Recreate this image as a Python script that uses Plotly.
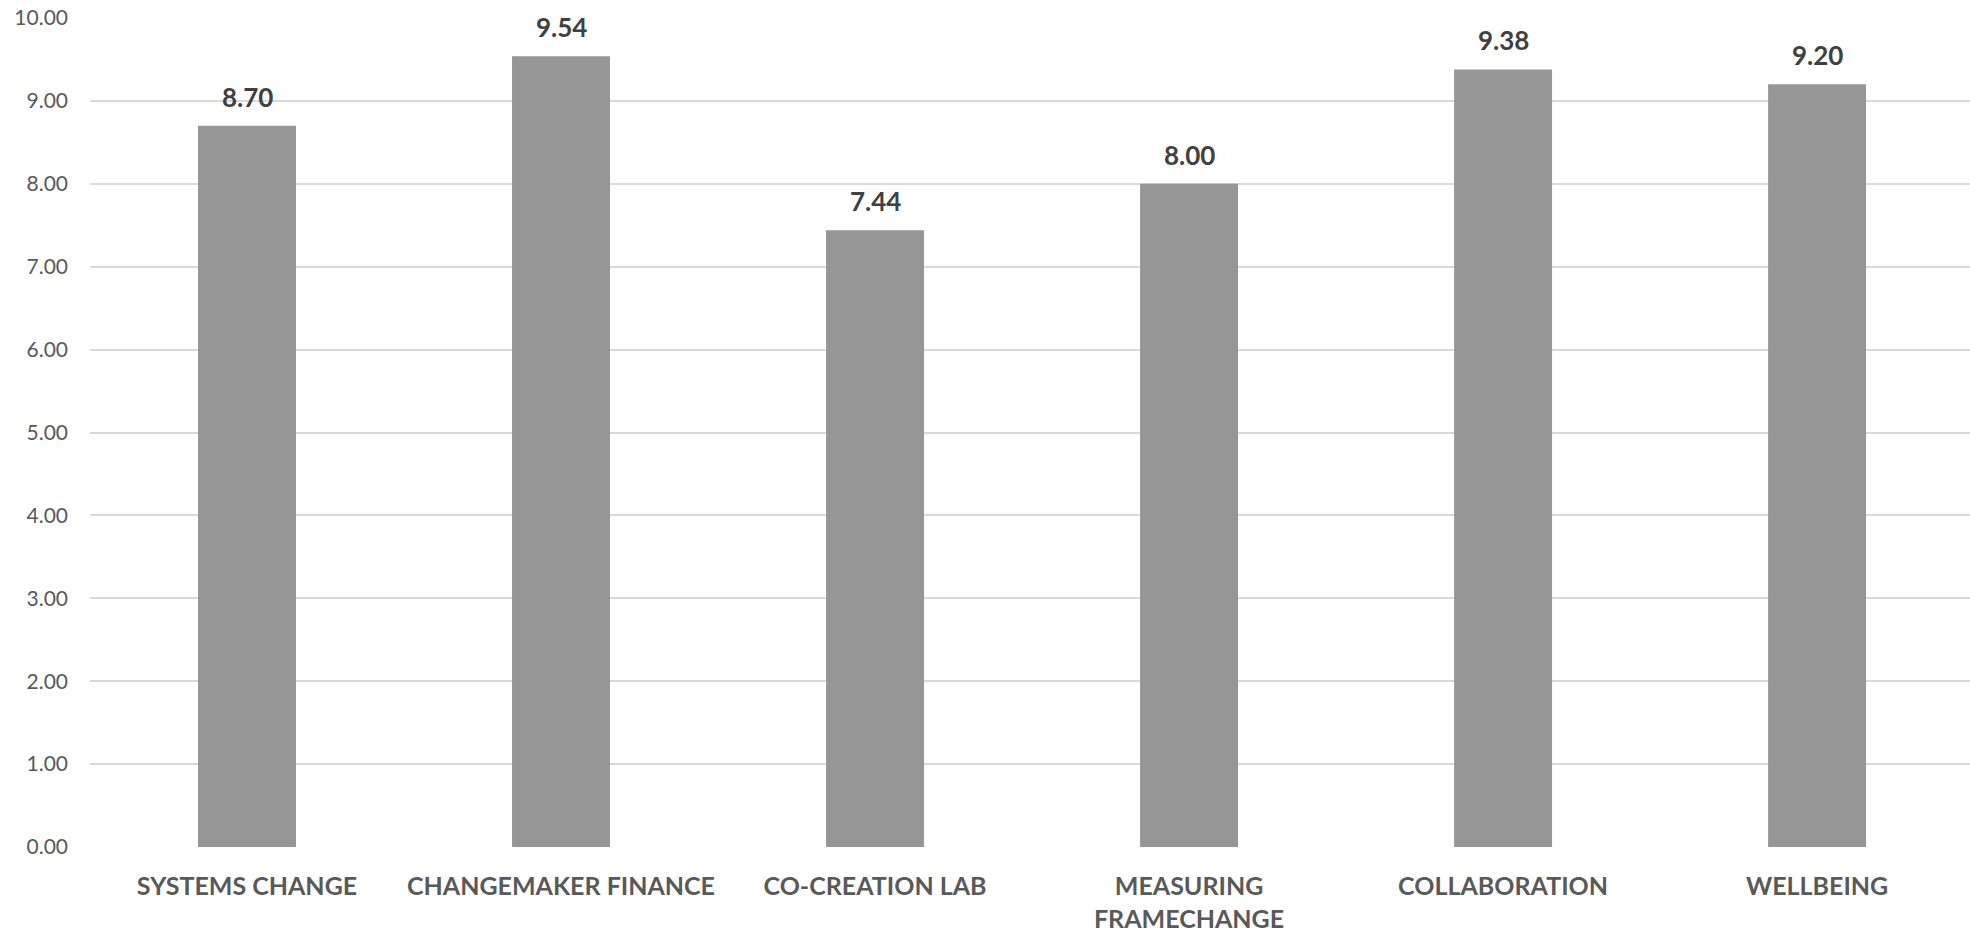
import plotly.graph_objects as go

categories = ["SYSTEMS CHANGE", "CHANGEMAKER FINANCE", "CO-CREATION LAB",
              "MEASURING<br>FRAMECHANGE", "COLLABORATION", "WELLBEING"]
scores = [8.70, 9.54, 7.44, 8.00, 9.38, 9.20]
y_ticks = [0, 1, 2, 3, 4, 5, 6, 7, 8, 9, 10]
y_tick_labels = [f"{v:.2f}" for v in y_ticks]

BAR_COLOR = "#969696"
GRID_COLOR = "#d9d9d9"
FONT = "Lato, 'Open Sans', sans-serif"

fig = go.Figure()
fig.add_trace(go.Bar(
    x=list(range(len(categories))),
    y=scores,
    marker=dict(color=BAR_COLOR, line=dict(width=0)),
    width=0.312,
    hoverinfo="skip",
))

# value labels above each bar
for i, v in enumerate(scores):
    fig.add_annotation(
        x=i, y=v, text=f"<b>{v:.2f}</b>", showarrow=False,
        yanchor="bottom", yshift=11,
        font=dict(family=FONT, size=26, color="#404040"),
    )

fig.update_layout(
    width=1970, height=935,
    margin=dict(l=90, r=0, t=18, b=88),
    paper_bgcolor="white", plot_bgcolor="white",
    showlegend=False,
    font=dict(family=FONT, color="#595959"),
    xaxis=dict(
        tickmode="array",
        tickvals=list(range(len(categories))),
        ticktext=[f"<b>{c}</b>" for c in categories],
        tickfont=dict(family=FONT, size=25, color="#595959"),
        range=[-0.5, 5.487],
        showgrid=False, zeroline=False, showline=False,
        ticks="", ticklabelstandoff=22,
    ),
    yaxis=dict(
        range=[0, 10],
        tickmode="array",
        tickvals=y_ticks,
        ticktext=y_tick_labels,
        tickfont=dict(family=FONT, size=21, color="#595959"),
        showgrid=True, gridcolor=GRID_COLOR, gridwidth=1.5,
        zeroline=False, showline=False,
        ticks="", ticklabelstandoff=21,
    ),
)

fig.write_html("out.html")
